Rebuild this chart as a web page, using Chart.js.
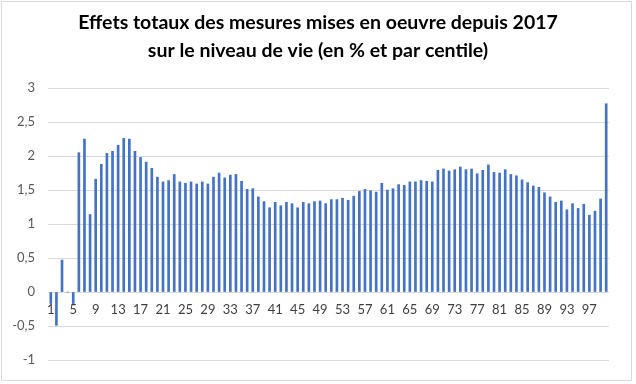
<!DOCTYPE html>
<html>
<head>
<meta charset="utf-8">
<script src="https://cdn.jsdelivr.net/npm/chart.js@4"></script>
<style>
  body { margin: 0; background: #fff; }
  #wrap { position: relative; width: 636px; height: 384px; }
  #frame { position: absolute; left: 1px; top: 1px; width: 629px; height: 378px; border: 1px solid #d9d9d9; pointer-events: none; }
</style>
</head>
<body>
<div id="wrap">
  <canvas id="chart" width="636" height="384"></canvas>
  <div id="frame"></div>
</div>
<script>
const titleLines = ['Effets totaux des mesures mises en oeuvre depuis 2017', 'sur le niveau de vie (en % et par centile)'];

// centiles 1..100
const centiles = Array.from({ length: 100 }, (_, i) => String(i + 1));

// effet total en % du niveau de vie
const effects = [
  -0.17, -0.49, 0.47, 0.00, -0.17, 2.05, 2.25, 1.14, 1.66, 1.88,
  2.04, 2.07, 2.16, 2.26, 2.25, 2.07, 1.98, 1.91, 1.82, 1.69,
  1.62, 1.64, 1.73, 1.62, 1.60, 1.62, 1.59, 1.62, 1.59, 1.69,
  1.75, 1.68, 1.72, 1.73, 1.63, 1.51, 1.52, 1.40, 1.33, 1.24,
  1.32, 1.27, 1.32, 1.30, 1.24, 1.32, 1.30, 1.33, 1.34, 1.30,
  1.36, 1.36, 1.38, 1.35, 1.41, 1.48, 1.51, 1.49, 1.47, 1.60,
  1.50, 1.52, 1.58, 1.57, 1.62, 1.62, 1.64, 1.63, 1.62, 1.79,
  1.81, 1.78, 1.80, 1.84, 1.80, 1.81, 1.74, 1.79, 1.87, 1.76,
  1.75, 1.80, 1.73, 1.71, 1.65, 1.61, 1.56, 1.54, 1.46, 1.40,
  1.32, 1.34, 1.21, 1.30, 1.23, 1.29, 1.13, 1.19, 1.37, 2.77
];

const yMin = -1;
const yMax = 3;
const yStep = 0.5;

new Chart(document.getElementById('chart'), {
  type: 'bar',
  data: {
    labels: centiles,
    datasets: [{
      data: effects,
      backgroundColor: '#4472c4',
      barThickness: 2
    }]
  },
  options: {
    responsive: false,
    animation: false,
    layout: { padding: { top: 0, right: 0, bottom: 24, left: 0 } },
    plugins: {
      legend: { display: false },
      tooltip: { enabled: false },
      title: {
        display: true,
        text: titleLines,
        color: '#000',
        font: { family: 'Lato', size: 19.5, weight: 'bold', lineHeight: 1.4 },
        padding: { top: 9.5, bottom: 24 }
      }
    },
    scales: {
      x: {
        position: { y: 0 },
        grid: { display: false },
        border: { display: false },
        ticks: {
          autoSkip: false,
          maxRotation: 0,
          padding: 2,
          color: '#404040',
          font: { family: 'Lato', size: 13 },
          callback: (v, i) => (i % 4 === 0 ? centiles[i] : '')
        }
      },
      y: {
        min: yMin,
        max: yMax,
        grid: { color: '#d9d9d9', drawTicks: false },
        border: { display: false },
        afterFit: s => { s.width = 48; },
        ticks: {
          stepSize: yStep,
          padding: 13,
          color: '#595959',
          font: { family: 'Lato', size: 13 },
          callback: v => String(v).replace('.', ',')
        }
      },
      // empty right margin so the title stays centred on the whole canvas
      yRight: {
        position: 'right',
        min: yMin,
        max: yMax,
        grid: { display: false },
        border: { display: false },
        ticks: { display: false },
        afterFit: s => { s.width = 27; }
      }
    }
  }
});
</script>
</body>
</html>
